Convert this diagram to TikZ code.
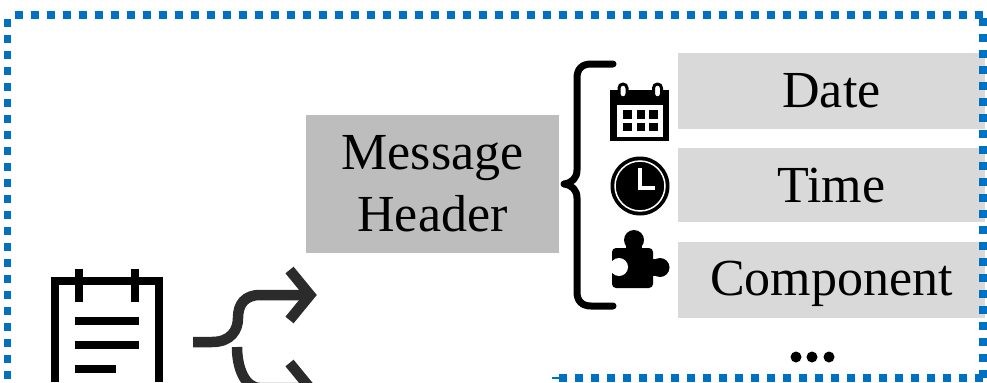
\documentclass[tikz,border=0pt]{standalone}
\usepackage{fontspec}
\setmainfont{Liberation Serif}
\usetikzlibrary{positioning}
\definecolor{dashblue}{HTML}{0070C0}
\tikzset{
  headerbox/.style={fill=black!26, minimum width=5.06cm, minimum height=2.76cm, align=center,
    inner sep=0pt, font=\fontsize{29.6}{35.3}\selectfont},
  fieldbox/.style={fill=black!15, minimum width=6.14cm, inner sep=0pt, font=\fontsize{29.6}{35.3}\selectfont},
  frameline/.style={draw=dashblue, line width=0.16cm, dash pattern=on 0.16cm off 0.16cm},
  arrowline/.style={draw=black!83, line width=0.21cm},
  bracket/.style={draw=black, line width=0.14cm, line cap=round, line join=round},
  iconline/.style={draw=black, line width=0.16cm}
}
\begin{document}
\begin{tikzpicture}[x=0.02cm, y=-0.02cm]
  \useasboundingbox (0,0) rectangle (987,382);
  \clip (0,0) rectangle (987,382);

  % boxes
  \node[headerbox] (header) at (432.5,184) {Message\\Header};
  \node[fieldbox, minimum height=1.52cm] (date) at (831.5,91) {Date};
  \node[fieldbox, minimum height=1.48cm, below=0.37cm of date] (time) {Time};
  \node[fieldbox, minimum height=1.52cm, text depth=0.08cm, below=0.38cm of time] (component) {Component};

  % dashed frame
  \draw[frameline] (15,15) -- (983,15);
  \draw[frameline] (983,18) -- (983,378);
  \draw[frameline] (983,378) -- (559,378);
  \draw[frameline] (7.5,19) -- (7.5,382);
  \draw[dashblue, line width=0.03cm] (552,378) -- (559,378);

  % notepad
  \draw[iconline] (55,382) -- (55,281) -- (159,281) -- (159,382);
  \foreach \x in {79,135}
    \draw[iconline] (\x,269) -- (\x,302);
  \draw[iconline] (75,321) -- (139,321);
  \draw[iconline] (75,345) -- (139,345);
  \draw[iconline] (75,369) -- (116,369);

  % split arrow
  \draw[arrowline] (193,342) -- (212,342) .. controls (231,342) and (238,330) .. (238,318)
    .. controls (238,304) and (245,295) .. (260,295) -- (310,295);
  \draw[arrowline] (289.5,270) -- (310,295) -- (289.5,320);
  \draw[arrowline] (237,347) .. controls (237,368) and (245,388) .. (260,388) -- (310,388);
  \draw[arrowline] (289.5,363) -- (310,388) -- (289.5,413);

  % brace
  \draw[bracket] (613,64) -- (591,64) .. controls (582,64) and (577,69) .. (577,78) -- (577,170)
    .. controls (577,178) and (572,183) .. (564,184) .. controls (572,185) and (577,190) .. (577,198)
    -- (577,292) .. controls (577,301) and (582,306) .. (591,306) -- (613,306);

  % calendar
  \fill (610,90) rectangle (669,141);
  \fill[white] (617,105) rectangle (663,137);
  \foreach \x in {623,636.5,649}
    \foreach \y in {110,122.5}
      \fill (\x,\y) rectangle ++(8.5,8.5);
  \foreach \x in {623,657.5}
    \draw[fill=white, line width=0.06cm, rounded corners=0.08cm] (\x-4,84) rectangle (\x+4,98);

  % clock
  \fill (640,186) circle (29.5);
  \draw[white, line width=0.03cm] (640,186) circle (25);
  \draw[white, line width=0.08cm] (640,168) -- (640,188) -- (655,188);

  % puzzle piece
  \fill[rounded corners=0.08cm] (612,248) rectangle (653,288);
  \fill (634,240) circle (10);
  \fill (626,240) rectangle (642,250);
  \fill (660,267.5) circle (9.5);
  \fill (650,259) rectangle (660,276);
  \fill[white] (619,267) circle (9);

  % dots
  \foreach \x in {796,812,829}
    \fill (\x,357) circle (5.5);
\end{tikzpicture}
\end{document}
